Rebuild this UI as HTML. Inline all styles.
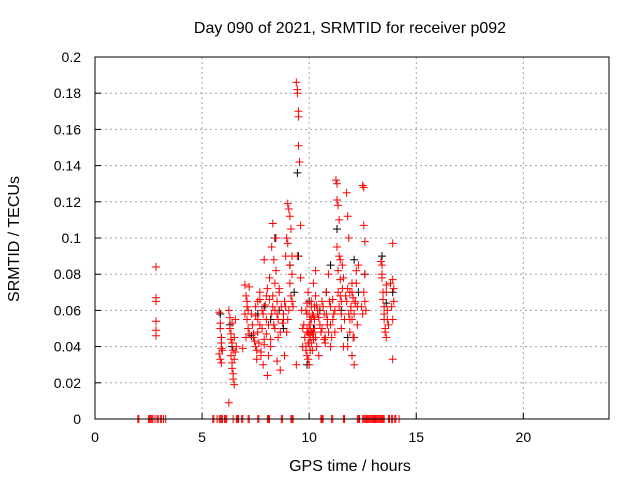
<!DOCTYPE html>
<html><head><meta charset="utf-8"><style>
body{margin:0;background:#fff}
svg{display:block;font-family:"Liberation Sans",sans-serif}
</style></head><body>
<svg id="chart" width="640" height="480" viewBox="0 0 640 480" xmlns="http://www.w3.org/2000/svg">
<rect width="640" height="480" fill="#fff"/>
<g id="grid"></g>
<g id="marks"></g>
<rect x="95" y="57" width="514" height="362" fill="none" stroke="#000" stroke-width="1"/>
<g id="ticks" font-size="14"></g>
<text x="350" y="33" text-anchor="middle" font-size="16">Day 090 of 2021, SRMTID for receiver p092</text>
<text x="350" y="471" text-anchor="middle" font-size="16">GPS time / hours</text>
<text transform="translate(19,239) rotate(-90)" text-anchor="middle" font-size="16">SRMTID / TECUs</text>
</svg>
<script>
const xTicks=[0,5,10,15,20];
const yTicks=[0,0.02,0.04,0.06,0.08,0.1,0.12,0.14,0.16,0.18,0.2];
const yTickLabels=["0","0.02","0.04","0.06","0.08","0.1","0.12","0.14","0.16","0.18","0.2"];
const blackT=[5.85,5.9,6.3,6.4,7.3,7.6,7.9,8.2,8.4,8.6,8.8,9.1,9.3,9.45,9.5,9.9,10.0,10.2,10.5,10.8,11.0,11.3,11.5,11.8,12.1,12.3,12.6,13.4,13.6,13.9];
const blackV=[0.058,0.045,0.052,0.04,0.046,0.058,0.062,0.055,0.1,0.06,0.05,0.085,0.07,0.136,0.09,0.03,0.065,0.05,0.06,0.07,0.085,0.105,0.06,0.045,0.088,0.07,0.08,0.09,0.064,0.07];
const redT=[2.85,2.85,2.85,2.85,2.85,2.85,
5.8,5.8,5.85,5.85,5.9,5.9,5.9,5.95,
6.25,6.3,6.3,6.35,6.35,6.4,6.4,6.4,6.45,6.45,6.5,6.5,6.55,6.6,6.25,
6.9,7.0,7.05,7.1,7.1,7.15,7.2,7.2,
7.4,7.5,7.5,7.55,7.6,7.6,7.7,7.7,7.75,7.8,7.85,7.9,7.9,8.0,8.0,8.05,
8.1,8.15,8.2,8.25,8.3,8.3,8.35,8.4,8.4,8.45,8.5,8.5,8.55,8.6,8.65,
8.8,8.9,8.95,9.0,9.0,9.05,9.1,9.1,9.15,9.2,9.2,8.85,
9.4,9.45,9.45,9.5,9.5,9.5,9.55,9.6,9.6,9.65,9.7,9.7,9.4,9.45,
9.8,9.85,9.9,9.9,9.95,10.0,10.0,10.05,10.1,10.1,10.15,10.2,10.2,10.25,10.3,10.3,10.35,10.4,10.45,10.5,
10.6,10.7,10.75,10.8,10.85,10.9,11.0,11.0,11.1,11.2,
11.25,11.3,11.3,11.35,11.4,11.4,11.45,11.5,11.5,11.55,11.6,
11.75,11.8,11.85,11.9,11.95,12.0,12.0,12.05,12.1,12.15,12.2,12.25,
12.5,12.55,12.55,12.6,12.6,12.65,
13.35,13.4,13.4,13.45,13.5,13.5,13.55,13.6,13.6,13.65,13.7,
13.9,13.9,13.95,13.95,13.9];
const redV=[0.084,0.067,0.065,0.054,0.049,0.046,
0.059,0.036,0.053,0.033,0.045,0.039,0.031,0.038,
0.06,0.056,0.05,0.044,0.035,0.042,0.031,0.028,0.025,0.022,0.019,0.033,0.037,0.04,0.009,
0.039,0.074,0.068,0.062,0.055,0.05,0.047,0.073,
0.045,0.04,0.057,0.033,0.065,0.048,0.052,0.07,0.037,0.06,0.03,0.044,0.088,0.055,0.068,0.024,
0.035,0.078,0.04,0.095,0.108,0.062,0.088,0.075,0.05,0.1,0.058,0.032,0.045,0.07,0.027,
0.055,0.062,0.048,0.119,0.097,0.116,0.112,0.085,0.105,0.09,0.065,0.035,
0.186,0.182,0.18,0.17,0.167,0.151,0.142,0.107,0.078,0.06,0.05,0.04,0.03,0.09,
0.045,0.06,0.035,0.05,0.07,0.042,0.03,0.055,0.048,0.065,0.038,0.057,0.075,0.05,0.082,0.045,0.04,0.06,0.035,0.052,
0.065,0.058,0.045,0.07,0.052,0.08,0.04,0.062,0.055,0.048,
0.132,0.13,0.121,0.118,0.11,0.09,0.077,0.065,0.05,0.085,0.04,
0.125,0.112,0.1,0.07,0.06,0.055,0.075,0.045,0.03,0.065,0.082,0.052,
0.129,0.128,0.107,0.098,0.08,0.06,
0.087,0.085,0.078,0.07,0.062,0.055,0.05,0.045,0.074,0.06,0.052,
0.097,0.077,0.072,0.065,0.033];
const extraT=[7.3,7.35,7.4,7.45,7.5,7.55,7.6,7.65,7.7,7.75,7.8,7.85,7.9,7.95,8.0,8.05,8.1,8.15,8.2,8.25,
8.3,8.35,8.4,8.45,8.5,8.55,8.6,8.65,8.7,8.75,8.8,8.85,8.9,8.95,9.0,9.05,9.1,9.15,9.2,9.25,
9.75,9.8,9.85,9.9,9.95,10.0,10.05,10.1,10.15,10.2,10.25,10.3,10.35,10.4,9.85,9.9,9.95,10.0,10.05,10.1,
10.15,10.2,9.9,10.0,10.1,9.95,10.05,10.25,10.45,10.55,
10.6,10.65,10.7,10.8,10.9,11.0,11.05,11.1,11.15,11.2,10.75,10.85,10.95,
11.3,11.35,11.4,11.45,11.5,11.55,11.6,11.65,11.35,11.45,
11.7,11.75,11.8,11.85,11.9,11.95,12.0,12.05,12.1,12.15,12.2,12.25,12.3,11.8,11.9,12.0,12.1,
6.3,6.35,6.4,6.45,6.5,6.55,5.85,5.9,7.0,7.05,7.1,7.15,
12.45,12.5,12.55,12.6,13.4,13.45,13.5,13.55,13.6,13.65,13.8,13.85,13.9];
const extraV=[0.058,0.052,0.047,0.043,0.062,0.038,0.055,0.042,0.066,0.035,0.05,0.058,0.041,0.063,0.047,0.072,0.052,0.066,0.044,0.058,
0.068,0.052,0.06,0.082,0.065,0.055,0.072,0.048,0.062,0.053,0.058,0.065,0.09,0.1,0.055,0.06,0.075,0.068,0.08,0.062,
0.052,0.045,0.04,0.058,0.048,0.052,0.045,0.062,0.058,0.048,0.055,0.068,0.063,0.058,0.038,0.048,0.042,0.058,0.038,0.042,
0.047,0.044,0.064,0.047,0.055,0.033,0.05,0.062,0.056,0.048,
0.05,0.062,0.044,0.058,0.048,0.052,0.045,0.066,0.058,0.06,0.042,0.055,0.065,
0.095,0.07,0.062,0.068,0.058,0.072,0.078,0.055,0.082,0.088,
0.068,0.065,0.072,0.058,0.048,0.062,0.07,0.067,0.058,0.064,0.075,0.062,0.085,0.04,0.055,0.035,0.045,
0.05,0.047,0.053,0.038,0.045,0.055,0.05,0.042,0.058,0.045,0.065,0.06,
0.062,0.058,0.07,0.065,0.08,0.066,0.058,0.048,0.07,0.055,0.075,0.062,0.055];
const zeroT=[2.0,2.05,2.5,2.55,2.6,2.65,2.7,2.8,2.9,2.95,3.05,3.1,3.2,3.3,5.5,5.55,5.7,5.8,5.85,5.9,5.95,6.05,6.1,6.15,6.45,6.6,6.65,6.7,6.85,6.9,7.15,7.2,7.6,7.65,8.05,8.1,8.15,8.7,8.75,9.15,9.2,9.25,10.55,10.6,10.65,11.05,11.1,11.6,11.65,12.25,12.3,12.35,12.5,12.55,12.6,12.65,12.7,12.75,12.8,12.85,12.9,12.95,13.0,13.05,13.1,13.15,13.2,13.25,13.3,13.35,13.4,13.45,13.5,13.7,13.75,13.85,13.9,14.0,14.05,14.2];
const X=t=>95+t*514/24, Y=v=>419-v*362/0.2;
const ns="http://www.w3.org/2000/svg";
function mk(tag,attrs,parent){const e=document.createElementNS(ns,tag);for(const k in attrs)e.setAttribute(k,attrs[k]);parent.appendChild(e);return e;}
const grid=document.getElementById('grid'),ticks=document.getElementById('ticks'),marks=document.getElementById('marks');
xTicks.forEach(t=>{
 if(t>0){const g=mk('line',{x1:X(t),x2:X(t),y1:57,y2:419,stroke:'#a0a0a0','stroke-dasharray':'2,3'},grid);
 
 }
 const tk=mk('line',{x1:X(t),x2:X(t),y1:419,y2:413,stroke:'#000'},ticks);
 
 
 const l=mk('text',{x:X(t),y:442,'text-anchor':'middle'},ticks);l.textContent=t;
 
 
});
yTicks.forEach((v,i)=>{
 if(i>0&&i<yTicks.length-1){const g=mk('line',{x1:95,x2:609,y1:Y(v),y2:Y(v),stroke:'#a0a0a0','stroke-dasharray':'2,3'},grid);
 
 }
 const tk=mk('line',{x1:95,x2:101,y1:Y(v),y2:Y(v),stroke:'#000'},ticks);
 
 
 const l=mk('text',{x:81,y:Y(v)+5,'text-anchor':'end'},ticks);l.textContent=yTickLabels[i];
 
 
});
function plus(t,v,c,name){const x=X(t),y=Y(v);
 const p=mk('path',{d:`M${x-4} ${y}H${x+4}M${x} ${y-4}V${y+4}`,stroke:c,'stroke-width':1,fill:'none'},marks);
 
 }
blackT.forEach((t,i)=>plus(t,blackV[i],'#000','black-point'));
redT.forEach((t,i)=>plus(t,redV[i],'#ff0000','red-point'));
extraT.forEach((t,i)=>plus(t,extraV[i],'#ff0000','red-point'));
zeroT.forEach(t=>plus(t,0,'#ff0000','zero-point'));
</script>
</body></html>
